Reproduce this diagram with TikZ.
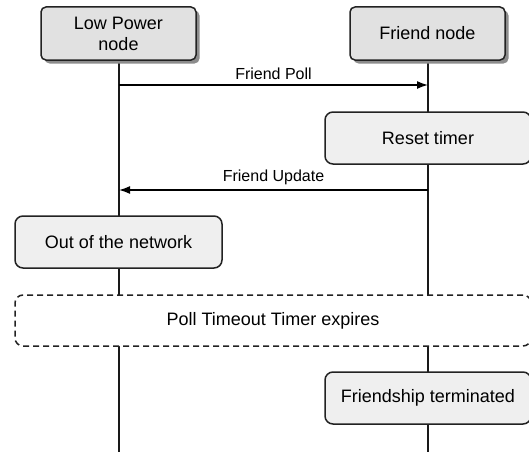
\documentclass[tikz,border=0pt]{standalone}
\usepackage{fontspec}
\setmainfont{Liberation Sans}
\usetikzlibrary{shadows,arrows.meta}

\definecolor{HeadFill}{HTML}{E1E1E1}
\definecolor{StepFill}{HTML}{EFEFEF}
\definecolor{EdgeGray}{HTML}{222222}

\tikzset{
	actorbox/.style={draw=EdgeGray,line width=1.5pt,fill=HeadFill,rounded corners=5pt,minimum width=155pt,minimum height=53pt,align=center,inner sep=0pt,
		drop shadow={shadow xshift=3.5pt,shadow yshift=-3.5pt,fill=black!45,opacity=1},font=\fontsize{18}{21}\selectfont},
	stepbox/.style={draw=EdgeGray,line width=1.5pt,fill=StepFill,rounded corners=8pt,minimum height=52pt,inner sep=0pt,font=\fontsize{18}{21}\selectfont},
	lifeline/.style={line width=1.8pt,black!90},
	msg/.style={line width=1.5pt,-{Latex[length=11pt,width=8pt]}},
	msglabel/.style={above=1pt,font=\fontsize{16}{19}\selectfont}
}

\begin{document}
\begin{tikzpicture}[x=1pt,y=-1pt]
	\useasboundingbox (0,0) rectangle (529,452);
	\clip (0,0) rectangle (529,452);

	\coordinate (LowEnd)    at (119,452);
	\coordinate (FriendEnd) at (428,452);
	\coordinate (PollStart)  at (119,85);
	\coordinate (PollEnd)    at (428,85);
	\coordinate (UpdStart)   at (428,190);
	\coordinate (UpdEnd)     at (119,190);

	% lifelines
	\draw [lifeline] (119,60) -- (LowEnd);
	\draw [lifeline] (428,60) -- (FriendEnd);

	\node [actorbox] (LowPower) at (118.5,33.5) {Low Power\\node};
	\node [actorbox] (Friend)   at (427.5,33.5) {Friend node};

	\draw [msg] (PollStart) -- (PollEnd) node[midway,msglabel] {Friend Poll};
	\node [stepbox,minimum width=206pt] (Reset) at (428,138) {Reset timer};
	\draw [msg] (UpdStart) -- (UpdEnd) node[midway,msglabel] {Friend Update};

	\node [stepbox,minimum width=207pt] (OutNet) at (118.5,242) {Out of the network};
	\node [stepbox,minimum width=516pt,minimum height=51pt,fill=white,dash pattern=on 6pt off 4pt] (Timeout) at (273,320.5) {Poll Timeout Timer expires};
	\node [stepbox,minimum width=206pt] (Terminated) at (428,398) {Friendship terminated};
\end{tikzpicture}
\end{document}
